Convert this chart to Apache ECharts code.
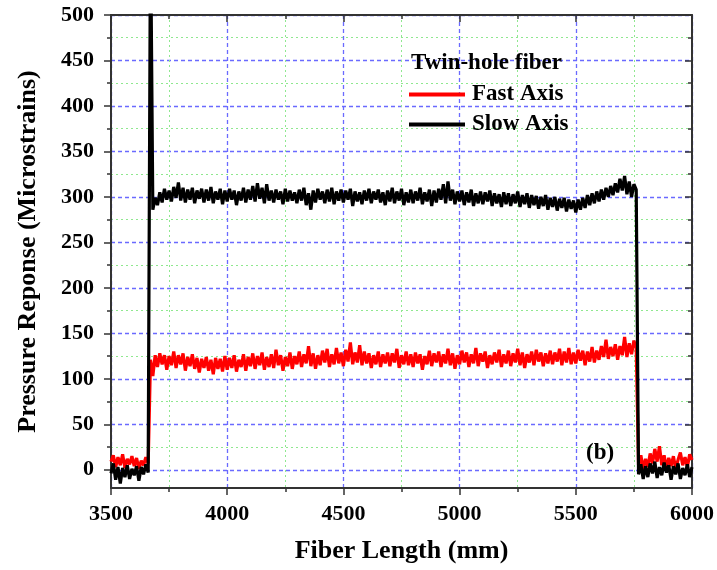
<!DOCTYPE html>
<html>
<head>
<meta charset="utf-8">
<script src="https://cdn.jsdelivr.net/npm/echarts@6/dist/echarts.min.js"></script>
<style>html,body{margin:0;padding:0;background:#fff;}#chart{width:717px;height:570px;}</style>
</head>
<body>
<div id="chart"></div>
<script>
// Sampling grid of fiber length (mm), 10 mm step
const xStart = 3500, xStep = 10, nPts = 251;
const fiberLength = Array.from({length: nPts}, (_, i) => xStart + i * xStep);

const slowAxis = [
  -4, 7, -11, 3, -15, 2, -8, 5, -10, 1,
  -6, 4, -12, 3, -5, 6, -3,
  600,
  286, 299,
  291, 305, 294, 309, 297, 307, 295, 311, 299, 316,
  296, 310, 294, 308, 297, 310, 293, 307, 298, 309,
  294, 308, 296, 311, 293, 306, 297, 309, 292, 307,
  295, 309, 297, 307, 291, 306, 296, 310, 294, 308,
  297, 312, 295, 315, 298, 310, 293, 314, 296, 307,
  294, 308, 297, 306, 292, 309, 295, 307, 296, 305,
  293, 308, 296, 310, 291, 304, 286, 307, 294, 309,
  297, 306, 293, 308, 295, 310, 292, 306, 296, 308,
  294, 307, 297, 309, 290, 306, 295, 305, 292, 307,
  296, 309, 293, 306, 297, 308, 294, 305, 291, 307,
  295, 310, 293, 306, 296, 309, 291, 305, 294, 308,
  293, 306, 296, 310, 292, 305, 295, 308, 290, 307,
  294, 309, 297, 314, 293, 317, 296, 308, 292, 306,
  295, 307, 291, 305, 294, 308, 290, 304, 293, 306,
  292, 305, 295, 307, 290, 304, 293, 303, 289, 305,
  292, 304, 290, 303, 293, 306, 289, 302, 292, 304,
  288, 302, 291, 301, 287, 300, 290, 302, 286, 299,
  289, 300, 285, 298, 288, 299, 284, 297, 287, 296,
  283, 297, 286, 299, 288, 302, 291, 304, 293, 306,
  295, 308, 297, 310, 300, 312, 302, 315, 305, 320,
  307, 323, 303, 317, 300, 314,
  308,
  -5, 6, -10,
  4, -8, 7, -4, 9, -9, 3, -6, 8, -3,
  5, -11, 4, -5, 7, -10, 2, -6, 6, -8,
  3
];

const fastAxis = [
  9, 16, 3, 14, 5, 17, 2, 12, 6, 15,
  4, 13, 1, 10, 5, 14, 7,
  121,
  103, 126,
  113, 128, 116, 126, 110, 125, 115, 130, 112, 126,
  116, 128, 109, 124, 114, 127, 111, 123, 107, 122,
  112, 124, 109, 121, 105, 123, 111, 122, 108, 125,
  110, 123, 112, 126, 108, 121, 113, 127, 109, 124,
  114, 128, 111, 125, 115, 129, 110, 124, 113, 127,
  112, 132, 115, 126, 109, 124, 114, 129, 111, 125,
  116, 130, 113, 127, 117, 136, 114, 128, 111, 126,
  115, 131, 118, 133, 113, 127, 116, 134, 117, 129,
  114, 132, 119, 140, 116, 129, 118, 137, 115, 130,
  117, 128, 112, 126, 116, 130, 113, 127, 117, 129,
  114, 128, 118, 133, 112, 126, 116, 130, 115, 127,
  113, 129, 117, 127, 110, 125, 116, 131, 114, 128,
  118, 130, 113, 127, 117, 133, 115, 128, 111, 126,
  116, 131, 118, 129, 113, 127, 117, 134, 114, 128,
  119, 130, 112, 126, 116, 129, 118, 132, 113, 127,
  117, 131, 114, 128, 118, 133, 115, 129, 112, 127,
  118, 130, 115, 132, 119, 129, 114, 128, 117, 131,
  116, 129, 119, 133, 115, 130, 118, 134, 116, 129,
  117, 132, 120, 131, 115, 130, 119, 135, 118, 131,
  121, 136, 124, 143, 122, 135, 125, 138, 121, 136,
  126, 146, 124, 139, 127, 142,
  134,
  5, 16, 1,
  12, 3, 18, 7, 23, 9, 26, 5, 16, 2,
  13, 4, 15, 1, 11, 19, 5, 14, 3, 17,
  11
];

const yMajorTicks = [0, 50, 100, 150, 200, 250, 300, 350, 400, 450, 500];
const yMinorTicks = [25, 75, 125, 175, 225, 275, 325, 375, 425, 475];
const xTickInterval = 500;
const seriesNames = ['Fast Axis', 'Slow Axis'];

const FONT = '"Liberation Serif", "DejaVu Serif", serif';
const gridMajor = {show: true, lineStyle: {color: '#6a6aff', type: [4, 3], width: 1.3}};
const gridMinor = {show: true, lineStyle: {color: '#8fe88f', type: [2, 3], width: 1}};
const frameLine = {show: true, onZero: false, lineStyle: {color: '#333', width: 2}};

const chart = echarts.init(document.getElementById('chart'), null, {renderer: 'canvas'});
const pair = arr => fiberLength.map((x, i) => [x, arr[i]]);

chart.setOption({
  animation: false,
  backgroundColor: '#fff',
  grid: {left: 111, right: 25, top: 15, bottom: 82, containLabel: false},
  title: [
    {text: 'Twin-hole fiber', left: 411, top: 52, padding: 0,
     textStyle: {fontFamily: FONT, fontWeight: 'bold', fontSize: 23, color: '#000'}},
    {text: '(b)', left: 586, top: 442, padding: 0,
     textStyle: {fontFamily: FONT, fontWeight: 'bold', fontSize: 23, color: '#000'}}
  ],
  legend: {
    orient: 'vertical', left: 409, top: 83, padding: 0, itemWidth: 56, itemHeight: 4,
    itemGap: 7, icon: 'rect',
    textStyle: {fontFamily: FONT, fontWeight: 'bold', fontSize: 23, color: '#000', lineHeight: 23, padding: [0, 0, 0, 2]},
    data: seriesNames
  },
  xAxis: [
    {type: 'value', position: 'bottom', min: 3500, max: 6000, interval: xTickInterval,
     name: 'Fiber Length (mm)', nameLocation: 'middle', nameGap: 50,
     nameTextStyle: {fontFamily: FONT, fontWeight: 'bold', fontSize: 26, color: '#000'},
     axisLine: frameLine,
     axisTick: {show: true, inside: false, length: 7, lineStyle: {color: '#333', width: 1.5}},
     minorTick: {show: true, splitNumber: 2, length: 4, lineStyle: {color: '#333', width: 1.5}},
     axisLabel: {fontFamily: FONT, fontWeight: 'bold', fontSize: 22, color: '#000', margin: 15,
                 formatter: v => String(v)},
     splitLine: gridMajor, minorSplitLine: gridMinor},
    {type: 'value', position: 'top', min: 3500, max: 6000, interval: xTickInterval,
     axisLine: frameLine,
     axisTick: {show: true, inside: true, length: 7, lineStyle: {color: '#333', width: 1.5}},
     minorTick: {show: true, splitNumber: 2, length: 4, lineStyle: {color: '#333', width: 1.5}},
     axisLabel: {show: false}, splitLine: {show: false}}
  ],
  yAxis: [
    {type: 'value', position: 'left', min: -20, max: 500,
     name: 'Pressure Reponse (Microstrains)', nameLocation: 'middle', nameGap: 70, nameRotate: 90,
     nameTextStyle: {fontFamily: FONT, fontWeight: 'bold', fontSize: 26, color: '#000'},
     axisLine: frameLine,
     axisTick: {show: true, inside: false, length: 7, customValues: yMajorTicks, lineStyle: {color: '#333', width: 1.5}},
     axisLabel: {fontFamily: FONT, fontWeight: 'bold', fontSize: 22, color: '#000', margin: 17, customValues: yMajorTicks},
     splitLine: gridMajor},
    {type: 'value', position: 'left', min: -20, max: 500,
     axisLine: {show: false},
     axisTick: {show: true, inside: false, length: 4, customValues: yMinorTicks, lineStyle: {color: '#333', width: 1.5}},
     axisLabel: {show: false, customValues: yMinorTicks},
     splitLine: gridMinor},
    {type: 'value', position: 'right', min: -20, max: 500,
     axisLine: frameLine,
     axisTick: {show: true, inside: true, length: 7, customValues: yMajorTicks, lineStyle: {color: '#333', width: 1.5}},
     axisLabel: {show: false, customValues: yMajorTicks}, splitLine: {show: false}},
    {type: 'value', position: 'right', min: -20, max: 500,
     axisLine: {show: false},
     axisTick: {show: true, inside: true, length: 4, customValues: yMinorTicks, lineStyle: {color: '#333', width: 1.5}},
     axisLabel: {show: false, customValues: yMinorTicks}, splitLine: {show: false}}
  ],
  series: [
    {name: seriesNames[0], type: 'line', xAxisIndex: 0, yAxisIndex: 0, data: pair(fastAxis),
     showSymbol: false, symbol: 'none', clip: true, color: '#ff0000',
     lineStyle: {color: '#ff0000', width: 3.2}},
    {name: seriesNames[1], type: 'line', xAxisIndex: 0, yAxisIndex: 0, data: pair(slowAxis),
     showSymbol: false, symbol: 'none', clip: true, color: '#000000',
     lineStyle: {color: '#000000', width: 3.2}}
  ]
});
</script>
</body>
</html>
